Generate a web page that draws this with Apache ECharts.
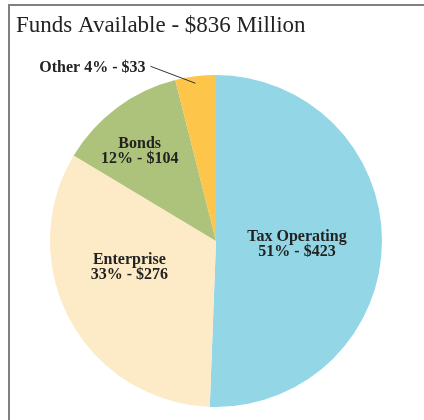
<!DOCTYPE html>
<html>
<head>
<meta charset="utf-8">
<script src="https://cdn.jsdelivr.net/npm/echarts@6/dist/echarts.min.js"></script>
<style>
  html, body { margin: 0; padding: 0; background: #fff; }
  #main { width: 424px; height: 420px; }
</style>
</head>
<body>
<div id="main"></div>
<script>
// funds by source, $ millions
var sources = ["Tax Operating", "Enterprise", "Bonds", "Other"];
var amounts = [423, 276, 104, 33];
var percents = [51, 33, 12, 4];
var colors = ["#93d6e6", "#fdeac6", "#adc27a", "#fdc54a"];

var myChart = echarts.init(document.getElementById("main"));

// nudges for the inside labels, relative to where echarts puts them
var nudge = { 0: [-5, 2], 1: [-11, -15], 2: [-25, -21] };

var labelFont = {
  fontFamily: "Liberation Serif",
  fontWeight: "bold",
  fontSize: 16,
  lineHeight: 15,
  color: "#222"
};

var mainData = sources.map(function (name, i) {
  var item = { name: name, value: amounts[i], itemStyle: { color: colors[i] } };
  if (name === "Other") item.label = { show: false };
  return item;
});

// same slices again, invisible, only to carry the "Other" callout above the pie
var calloutData = sources.map(function (name, i) {
  var item = { name: name, value: amounts[i] };
  if (name === "Other") {
    item.label = { show: true, formatter: "{b} " + percents[i] + "% - ${c}" };
    item.labelLine = { show: true, length: 10, length2: 10 };
  }
  return item;
});

myChart.setOption({
  animation: false,
  title: {
    text: "Funds Available - $836 Million",
    left: 16,
    top: 14,
    padding: 0,
    textStyle: {
      fontFamily: "Liberation Serif",
      fontWeight: "normal",
      fontSize: 23,
      color: "#222"
    }
  },
  graphic: [
    {
      type: "rect",
      shape: { x: 9, y: 5, width: 600, height: 600 },
      style: { fill: "none", stroke: "#808080", lineWidth: 2 },
      silent: true
    }
  ],
  series: [
    {
      type: "pie",
      z: 2,
      center: [216, 241],
      radius: 166,
      startAngle: 90,
      data: mainData,
      label: Object.assign({
        position: "inside",
        formatter: function (p) {
          return p.name + "\n" + percents[p.dataIndex] + "% - $" + p.value;
        }
      }, labelFont),
      labelLayout: function (params) {
        var d = nudge[params.dataIndex] || [0, 0];
        return { dx: d[0], dy: d[1] };
      }
    },
    {
      type: "pie",
      z: 3,
      silent: true,
      center: [216, 241],
      radius: 166,
      startAngle: 90,
      data: calloutData,
      itemStyle: { color: "rgba(0,0,0,0)" },
      label: Object.assign({ show: false, position: "outside" }, labelFont),
      labelLine: { show: false, lineStyle: { color: "#333", width: 1 } },
      labelLayout: function (params) {
        if (!params.labelLinePoints) return {};
        var a = params.labelLinePoints[0];
        var end = [a[0] - 45, a[1] - 10];
        return {
          x: end[0] - 5,
          y: end[1] + 2,
          align: "right",
          verticalAlign: "middle",
          labelLinePoints: [[a[0], a[1] + 7], end, end]
        };
      }
    }
  ]
});
</script>
</body>
</html>
